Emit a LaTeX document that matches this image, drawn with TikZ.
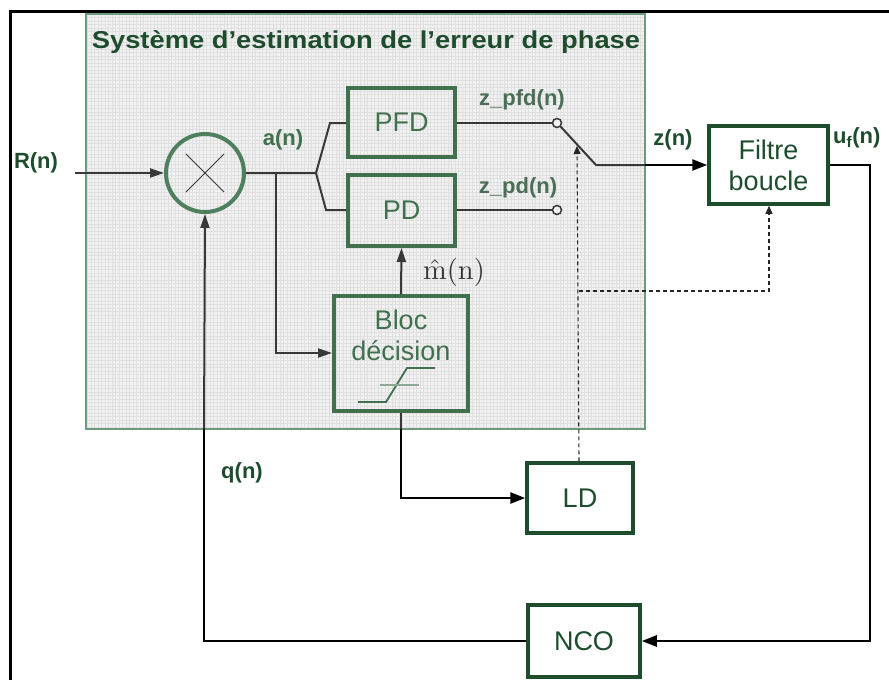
\documentclass[tikz,border=0pt]{standalone}
\usepackage[no-math]{fontspec}
\setmainfont{Liberation Sans}
\newfontfamily\ttlfamily[FakeStretch=1.12]{Liberation Sans}
\usetikzlibrary{arrows.meta,calc}
\definecolor{dgreen}{HTML}{1E4D2E}
\definecolor{igreen}{HTML}{41704F}
\definecolor{cgreen}{HTML}{4E7F5E}
\definecolor{igray}{HTML}{383838}
\definecolor{sysfill}{HTML}{F1F1F1}
\definecolor{sysgrid}{HTML}{E0E0E0}
\definecolor{sysdraw}{HTML}{6E9A7E}
\definecolor{lblgray}{HTML}{4B6E57}
\newcommand\bxfont{\fontsize{27}{31}\selectfont}
\newcommand\lbfont{\fontsize{22}{24}\selectfont\bfseries}
\begin{document}
\begin{tikzpicture}[x=1pt,y=-1pt,
  outbox/.style={draw=dgreen, line width=3.5pt, fill=white, font=\bxfont, text=dgreen, inner sep=0, align=center},
  inbox/.style={draw=igreen, line width=4pt, font=\bxfont, text=igreen, inner sep=0, align=center},
  lbl/.style={font=\lbfont, text=dgreen, inner sep=0},
  ilbl/.style={font=\lbfont, text=lblgray, inner sep=0},
  wire/.style={line width=2.5pt, black},
  iwire/.style={line width=2pt, igray},
  arr/.style={-{Triangle[length=15pt,width=11pt]}},
  iarr/.style={-{Triangle[length=14pt,width=9pt]}},
  dashline/.style={line width=1.1pt, dash pattern=on 4pt off 3pt, black!85},
  darr/.style={-{Triangle[length=8pt,width=7pt]}},
  term/.style={circle, draw=igray, line width=1.5pt, fill=sysfill, minimum size=9pt, inner sep=0}
]
\useasboundingbox (0,0) rectangle (889,680);
% outer frame
\draw[line width=3pt, black] (10,690) -- (10,11) -- (900,11);
% system box
\node[fill=sysfill, minimum width=559pt, minimum height=415pt, inner sep=0] (sys) at (365.5,221.5) {};
\draw[sysgrid, line width=0.4pt] (86,14) grid[step=3.5pt] (645,429);
\draw[sysdraw, line width=1.5pt] (sys.north west) rectangle (sys.south east);
\node[font=\fontsize{24.4}{26}\selectfont\ttlfamily\bfseries, text=dgreen, inner sep=0, anchor=base] (title) at (366,48) {Système d’estimation de l’erreur de phase};
% blocks
\node[circle, draw=cgreen, line width=4pt, minimum size=78pt, inner sep=0] (mult) at (205,173) {};
\draw[igray, line width=1pt] ($(mult)+(-19,-19)$) -- ($(mult)+(19,19)$) ($(mult)+(-19,19)$) -- ($(mult)+(19,-19)$);
\node[inbox, minimum width=107pt, minimum height=69pt] (pfd) at (401.5,122.5) {PFD};
\node[inbox, minimum width=107pt, minimum height=71pt] (pd) at (401.5,210.5) {PD};
\node[inbox, minimum width=134pt, minimum height=115pt] (bloc) at (401,353.5) {};
\node[font=\bxfont, text=igreen, align=center, inner sep=0] (bloctxt) at (401,335) {Bloc\\décision};
\draw[igreen, line width=1.8pt] (358,402) -- (386,402) -- (407,368) -- (435,368);
\draw[igreen!60, line width=1.3pt] (380,385) -- (419,385);
\node[outbox, minimum width=119pt, minimum height=78pt] (filt) at (768.5,165) {Filtre\\boucle};
\node[outbox, minimum width=106pt, minimum height=70pt] (ld) at (580,498) {LD};
\node[outbox, minimum width=112pt, minimum height=72pt] (nco) at (584,641) {NCO};
% terminals
\node[term] (t1) at (557,123) {};
\node[term] (t2) at (557,210) {};
% coordinates
\coordinate (rin) at (75,173);
\coordinate (j) at (316,173);
\coordinate (sw) at (596,165);
\coordinate (br) at (579,291);
% signal lines inside
\draw[iwire, iarr] (rin) -- (mult.west);
\draw[iwire] (mult.east) -- (j) -- (330,123) -- (pfd.west |- 0,123);
\draw[iwire] (j) -- (326,210) -- (pd.west |- 0,210);
\draw[iwire, iarr] (276,173) -- (276,353) -- (bloc.west |- 0,353);
\draw[iwire, iarr] (bloc.north) -- (pd.south);
\draw[iwire] (pfd.east |- t1) -- (t1.west);
\draw[iwire] (pd.east |- t2) -- (t2.west);
\draw[iwire] (t1.south east) -- (sw) -- (sys.east |- sw);
% outside wires
\draw[wire, arr] (sys.east |- sw) -- (filt.west);
\draw[wire, arr] (401,429) -- (401,498) -- (ld.west);
\draw[iwire] (bloc.south) -- (401,429);
\draw[wire, arr] (filt.east) -- (870,165) -- (870,641) -- (nco.east);
\draw[wire] (nco.west) -- (204,641) -- (204,429);
\draw[iwire, iarr] (204,429) -- (mult.south);
% dashed control
\draw[dashline, darr] (ld.north -| br) -- (577,146);
\draw[dashline, darr] (br) -- (769,291) -- (filt.south -| 769,0);
% labels
\node[lbl] (lr) at (36,163) {R(n)};
\node[ilbl, text=igreen] (la) at (283,140) {a(n)};
\node[ilbl] (lzpfd) at (522,100) {z\_pfd(n)};
\node[ilbl] (lzpd) at (518,188) {z\_pd(n)};
\node[lbl] (lz) at (673,140) {z(n)};
\node[lbl, anchor=west] (luf) at (833,138) {u\textsubscript{f}(n)};
\node[lbl] (lq) at (242,473) {q(n)};
\node[scale=2.85, text=igray, inner sep=0] (lm) at (454,272) {$\hat{\mathrm{m}}(\mathrm{n})$};
\end{tikzpicture}
\end{document}
